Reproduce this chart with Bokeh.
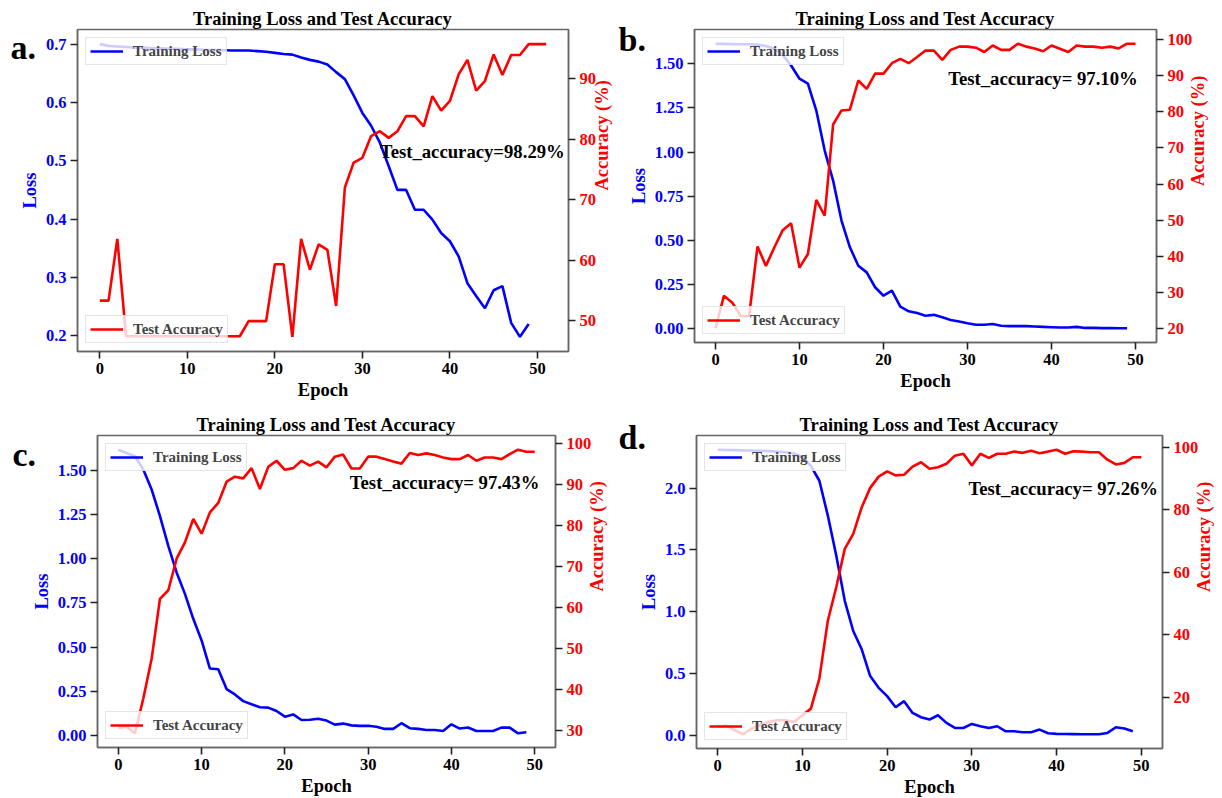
import math

from bokeh.plotting import figure
from bokeh.models import (Range1d, LinearAxis, FixedTicker, PrintfTickFormatter,
                          Legend, LegendItem, Label)
from bokeh.layouts import column, row
from bokeh.core.properties import value
from bokeh.embed import file_html
from bokeh.resources import INLINE

# ---------------------------------------------------------------- data
title_text = "Training Loss and Test Accuracy"
panel_tags = ["a.", "b.", "c.", "d."]
notes = ["Test_accuracy=98.29%", "Test_accuracy= 97.10%",
         "Test_accuracy= 97.43%", "Test_accuracy= 97.26%"]

loss_a = [0.700, 0.697, 0.696, 0.695, 0.694, 0.694, 0.693, 0.693, 0.692, 0.692,
          0.691, 0.691, 0.690, 0.690, 0.690, 0.689, 0.689, 0.689, 0.688, 0.687,
          0.685, 0.683, 0.682, 0.677, 0.673, 0.670, 0.665, 0.652, 0.640, 0.612,
          0.582, 0.560, 0.531, 0.491, 0.450, 0.450, 0.416, 0.416, 0.399, 0.376,
          0.362, 0.336, 0.290, 0.268, 0.247, 0.278, 0.285, 0.222, 0.198, 0.220]
acc_a = [53.3, 53.3, 63.5, 47.4, 47.4, 47.4, 47.4, 47.4, 47.4, 47.4,
         47.4, 47.4, 47.4, 47.4, 47.4, 47.4, 47.4, 49.9, 49.9, 49.9,
         59.3, 59.3, 47.3, 63.5, 58.4, 62.6, 61.7, 52.4, 72.0, 76.1,
         76.9, 80.5, 81.3, 80.2, 81.3, 83.8, 83.8, 82.1, 87.1, 84.7,
         86.3, 90.7, 93.1, 88.0, 89.6, 94.0, 90.6, 93.9, 93.9, 95.7,
         95.7, 95.7]

loss_b = [1.613, 1.612, 1.611, 1.610, 1.610, 1.608, 1.600, 1.585, 1.550, 1.490,
          1.415, 1.387, 1.235, 1.009, 0.839, 0.613, 0.462, 0.358, 0.320, 0.236,
          0.188, 0.217, 0.126, 0.100, 0.090, 0.075, 0.080, 0.066, 0.051, 0.042,
          0.032, 0.024, 0.024, 0.028, 0.018, 0.016, 0.016, 0.016, 0.014, 0.012,
          0.010, 0.008, 0.008, 0.012, 0.006, 0.006, 0.005, 0.005, 0.004, 0.004]
acc_b = [20.0, 29.0, 27.1, 23.4, 23.4, 42.7, 37.3, 42.4, 47.2, 49.1,
         36.8, 40.6, 55.6, 51.2, 76.5, 80.4, 80.6, 88.7, 86.4, 90.6,
         90.6, 93.5, 94.7, 93.5, 95.2, 97.0, 97.0, 94.4, 97.2, 98.1,
         98.1, 97.8, 96.6, 98.4, 97.2, 97.2, 98.9, 98.1, 97.6, 96.8,
         98.4, 97.5, 96.6, 98.4, 98.1, 98.1, 97.8, 98.1, 97.6, 98.9,
         98.9]

loss_c = [1.616, 1.597, 1.579, 1.504, 1.391, 1.241, 1.072, 0.922, 0.801, 0.660,
          0.538, 0.379, 0.375, 0.263, 0.233, 0.195, 0.177, 0.160, 0.158, 0.139,
          0.107, 0.120, 0.088, 0.090, 0.095, 0.085, 0.062, 0.068, 0.058, 0.055,
          0.056, 0.050, 0.038, 0.038, 0.070, 0.042, 0.038, 0.032, 0.032, 0.026,
          0.064, 0.040, 0.046, 0.026, 0.026, 0.026, 0.045, 0.045, 0.013, 0.019]
acc_c = [30.5, 30.8, 29.2, 37.7, 47.4, 62.0, 64.1, 71.8, 75.8, 81.5,
         77.9, 83.1, 85.4, 90.6, 91.8, 91.4, 93.9, 88.8, 94.2, 95.7,
         93.5, 93.9, 95.7, 94.5, 95.5, 94.1, 96.7, 97.2, 93.8, 93.8,
         96.7, 96.7, 96.1, 95.5, 95.0, 97.6, 97.1, 97.5, 97.1, 96.5,
         96.1, 96.1, 97.1, 95.7, 96.5, 96.5, 96.1, 97.3, 98.4, 97.9,
         97.9]

loss_d = [2.311, 2.309, 2.308, 2.306, 2.305, 2.303, 2.300, 2.296, 2.290, 2.280,
          2.255, 2.180, 2.060, 1.778, 1.453, 1.088, 0.844, 0.696, 0.479, 0.384,
          0.317, 0.227, 0.276, 0.181, 0.146, 0.127, 0.162, 0.100, 0.059, 0.059,
          0.092, 0.073, 0.059, 0.073, 0.032, 0.032, 0.024, 0.024, 0.046, 0.016,
          0.011, 0.010, 0.009, 0.008, 0.008, 0.008, 0.019, 0.065, 0.054, 0.032]
acc_d = [10.5, 11.0, 9.5, 8.2, 10.0, 11.1, 12.1, 12.7, 12.7, 12.1,
         14.3, 16.4, 26.0, 44.5, 55.3, 67.5, 72.3, 80.8, 87.0, 90.6,
         92.3, 91.0, 91.2, 93.8, 95.2, 93.1, 93.6, 94.7, 97.3, 97.9,
         94.2, 97.9, 96.6, 97.9, 97.9, 98.6, 98.2, 98.9, 98.1, 98.6,
         99.2, 97.9, 98.7, 98.6, 98.4, 98.4, 96.0, 94.5, 95.0, 96.8,
         96.8]

epoch_ticks = [0, 10, 20, 30, 40, 50]
loss_ticks_a = [0.2, 0.3, 0.4, 0.5, 0.6, 0.7]
loss_ticks_bc = [0.0, 0.25, 0.5, 0.75, 1.0, 1.25, 1.5]
loss_ticks_d = [0.0, 0.5, 1.0, 1.5, 2.0]
acc_ticks_a = [50, 60, 70, 80, 90]
acc_ticks_b = [20, 30, 40, 50, 60, 70, 80, 90, 100]
acc_ticks_c = [30, 40, 50, 60, 70, 80, 90, 100]
acc_ticks_d = [20, 40, 60, 80, 100]

# ---------------------------------------------------------------- style
FONT = "Liberation Serif"
BLUE = "#0000ff"
RED = "#ff0000"
SPINE = "#666666"


def padded(lo, hi, frac=0.05):
    span = hi - lo
    return lo - frac * span, hi + frac * span


def style_axis(ax, color, label, ticks, fmt):
    ax.ticker = FixedTicker(ticks=ticks)
    ax.formatter = PrintfTickFormatter(format=fmt)
    ax.axis_label = label
    ax.axis_label_text_font = FONT
    ax.axis_label_text_font_style = "bold"
    ax.axis_label_text_font_size = "18.5px"
    ax.axis_label_text_color = color
    ax.axis_label_standoff = 3
    ax.major_label_text_font = FONT
    ax.major_label_text_font_style = "bold"
    ax.major_label_text_font_size = "16.5px"
    ax.major_label_text_color = color
    ax.major_label_standoff = 4
    ax.axis_line_color = SPINE
    ax.axis_line_width = 1.5
    ax.major_tick_line_color = "#222222"
    ax.major_tick_line_width = 1.6
    ax.major_tick_out = 7
    ax.major_tick_in = 0
    ax.minor_tick_line_color = None


def panel(loss, acc, loss_ticks, loss_fmt, acc_ticks, note, note_xy, geom):
    left, fw, right, top, fh, bottom = geom
    epochs_loss = list(range(len(loss)))
    epochs_acc = list(range(len(acc)))
    x0, x1 = padded(0, max(len(loss), len(acc)) - 1)
    y0, y1 = padded(min(loss), max(loss))
    a0, a1 = padded(min(acc), max(acc))

    p = figure(frame_width=fw, frame_height=fh,
               min_border_left=left, min_border_right=right,
               min_border_top=top, min_border_bottom=bottom,
               x_range=Range1d(x0, x1), y_range=Range1d(y0, y1),
               output_backend="svg", toolbar_location=None, tools="")
    p.extra_y_ranges = {"acc": Range1d(a0, a1)}
    p.grid.visible = False
    p.outline_line_color = SPINE
    p.outline_line_width = 1.5
    p.background_fill_color = "white"
    p.border_fill_color = "white"

    p.title.text = title_text
    p.title.align = "center"
    p.title.text_font = FONT
    p.title.text_font_style = "bold"
    p.title.text_font_size = "18.5px"
    p.title.text_color = "black"
    p.title.standoff = 1

    style_axis(p.xaxis[0], "black", "Epoch", epoch_ticks, "%d")
    style_axis(p.yaxis[0], BLUE, "Loss", loss_ticks, loss_fmt)
    acc_axis = LinearAxis(y_range_name="acc")
    style_axis(acc_axis, RED, "Accuracy (%)", acc_ticks, "%d")
    if "axis_label_orientation" in acc_axis.properties():
        acc_axis.axis_label_orientation = math.pi / 2
    p.add_layout(acc_axis, "right")

    r_loss = p.line(epochs_loss, loss, line_color=BLUE, line_width=2.6)
    r_acc = p.line(epochs_acc, acc, line_color=RED, line_width=2.6,
                   y_range_name="acc")

    for label, rend, loc in (("Training Loss", r_loss, "top_left"),
                             ("Test Accuracy", r_acc, "bottom_left")):
        lg = Legend(items=[LegendItem(label=label, renderers=[rend])],
                    location=loc, margin=8, padding=4, spacing=0,
                    glyph_width=33, glyph_height=18, label_height=18,
                    label_standoff=10,
                    label_text_font=FONT, label_text_font_style="bold",
                    label_text_font_size="15px",
                    border_line_color="#cccccc", border_line_width=1,
                    background_fill_color="white", background_fill_alpha=0.8)
        p.add_layout(lg)

    # final accuracy annotation, placed on the accuracy scale
    p.add_layout(Label(x=note_xy[0], y=note_xy[1], y_range_name="acc",
                       text=note, text_align="left",
                       text_baseline="alphabetic", text_font=FONT,
                       text_font_style="bold", text_font_size="18.7px",
                       text_color="black"))
    return p


def tag_box(tag, left, top):
    # small transparent canvas carrying the panel letter, pinned over its panel
    w, h = 50, 90
    t = figure(width=w, height=h, min_border=0, x_range=Range1d(0, w),
               y_range=Range1d(0, h), x_axis_location=None,
               y_axis_location=None, output_backend="svg",
               toolbar_location=None, tools="",
               background_fill_color=None, border_fill_color=None)
    t.outline_line_color = None
    t.grid.visible = False
    t.text(x=[4], y=[h / 2 + 13], text=[tag], text_font=value(FONT),
           text_font_style="bold", text_font_size="34px",
           text_align="left", text_baseline="alphabetic", text_color="black")
    t.styles = {"position": "absolute", "left": f"{left}px",
                "top": f"{top}px", "z-index": "10"}
    return t


pa = panel(loss_a, acc_a, loss_ticks_a, "%.1f", acc_ticks_a,
           notes[0], (32.0, 78.0), (77, 491, 57, 27, 322, 51))
pb = panel(loss_b, acc_b, loss_ticks_bc, "%.2f", acc_ticks_b,
           notes[1], (27.7, 89.2), (68, 462, 67, 29, 313, 58))
pc = panel(loss_c, acc_c, loss_ticks_bc, "%.2f", acc_ticks_c,
           notes[2], (27.8, 90.3), (97, 458, 70, 31, 312, 55))
pd = panel(loss_d, acc_d, loss_ticks_d, "%.1f", acc_ticks_d,
           notes[3], (29.6, 86.7), (71, 466, 60, 35, 313, 50))

tags = [tag_box(panel_tags[0], 6, 15), tag_box(panel_tags[1], 614, 7),
        tag_box(panel_tags[2], 8, 422), tag_box(panel_tags[3], 614, 405)]

layout = column(row(pa, pb), row(pc, pd), *tags)
open("out.html", "w").write(file_html(layout, INLINE))
